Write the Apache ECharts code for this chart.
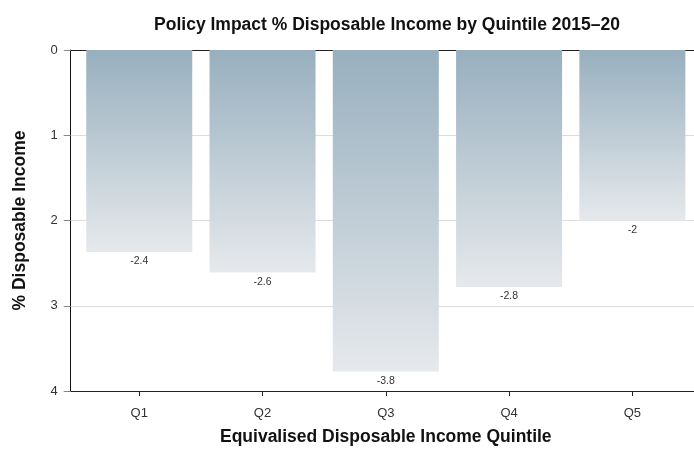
<!DOCTYPE html>
<html>
<head>
<meta charset="utf-8">
<script src="https://cdn.jsdelivr.net/npm/echarts@6/dist/echarts.min.js"></script>
<style>
html,body{margin:0;padding:0;background:#fff;}
#chart{width:694px;height:455px;}
</style>
</head>
<body>
<div id="chart"></div>
<script>
const categories = ['Q1', 'Q2', 'Q3', 'Q4', 'Q5'];
const impactValues = [-2.37, -2.61, -3.77, -2.78, -2.0];
const yTicks = [0, 1, 2, 3, 4];

const FONT = '"Liberation Sans", Arial, Helvetica, sans-serif';
const chart = echarts.init(document.getElementById('chart'));
const gridTop = 50, gridBottom = 64;

const option = {
  backgroundColor: '#fff',
  animation: false,
  textStyle: { fontFamily: FONT },
  title: {
    text: 'Policy Impact % Disposable Income by Quintile 2015–20',
    left: 382, top: 11, textAlign: 'center',
    textStyle: { fontFamily: FONT, fontSize: 17.5, fontWeight: 'bold', color: '#111' }
  },
  grid: [
    { left: 77.6, top: gridTop, width: 619, bottom: gridBottom },
    { left: 70.7, top: gridTop, width: 6.9, bottom: gridBottom }
  ],
  xAxis: [
    {
      gridIndex: 0, type: 'category', data: categories, position: 'bottom',
      axisLine: { show: true, onZero: false, lineStyle: { color: '#222', width: 1 } },
      axisTick: { show: true, alignWithLabel: true, length: 5, lineStyle: { color: '#222' } },
      axisLabel: { fontFamily: FONT, fontSize: 13, color: '#333', margin: 16 },
      name: 'Equivalised Disposable Income Quintile',
      nameLocation: 'middle', nameGap: 37,
      nameTextStyle: { fontFamily: FONT, fontSize: 17.5, fontWeight: 'bold', color: '#111' }
    },
    {
      gridIndex: 0, type: 'category', data: categories, position: 'top',
      axisLine: { show: true, onZero: false, lineStyle: { color: '#222', width: 1 } },
      axisTick: { show: false }, axisLabel: { show: false }
    },
    {
      gridIndex: 1, type: 'category', data: [''], position: 'bottom',
      axisLine: { show: true, onZero: false, lineStyle: { color: '#222', width: 1 } },
      axisTick: { show: false }, axisLabel: { show: false }
    },
    {
      gridIndex: 1, type: 'category', data: [''], position: 'top',
      axisLine: { show: true, onZero: false, lineStyle: { color: '#222', width: 1 } },
      axisTick: { show: false }, axisLabel: { show: false }
    }
  ],
  yAxis: [
    {
      gridIndex: 0, type: 'value', min: -4, max: 0, interval: 1,
      axisLine: { show: false }, axisTick: { show: false }, axisLabel: { show: false },
      splitLine: { show: true, lineStyle: { color: '#dddddd', width: 1 } }
    },
    {
      gridIndex: 1, type: 'value', min: -4, max: 0, interval: 1,
      axisLine: { show: true, onZero: false, lineStyle: { color: '#111', width: 1 } },
      axisTick: { show: true, length: 7, lineStyle: { color: '#888' } },
      axisLabel: {
        fontFamily: FONT, fontSize: 13, color: '#333', margin: 13,
        formatter: v => String(yTicks[Math.round(Math.abs(v))])
      },
      splitLine: { show: true, lineStyle: { color: '#dddddd', width: 1 } },
      name: '% Disposable Income', nameLocation: 'middle', nameGap: 42,
      nameTextStyle: { fontFamily: FONT, fontSize: 17.5, fontWeight: 'bold', color: '#111' }
    }
  ],
  series: [
    {
      type: 'bar', xAxisIndex: 0, yAxisIndex: 0,
      data: impactValues,
      barWidth: '86%',
      itemStyle: {
        color: new echarts.graphic.LinearGradient(0, 0, 0, 1, [
          { offset: 0, color: '#97afbe' },
          { offset: 1, color: '#e6e9ec' }
        ])
      },
      label: {
        show: true, position: 'bottom', distance: 4,
        fontFamily: FONT, fontSize: 10.5, color: '#333',
        formatter: p => String(Math.round(p.value * 10) / 10)
      }
    }
  ]
};
chart.setOption(option);
</script>
</body>
</html>
